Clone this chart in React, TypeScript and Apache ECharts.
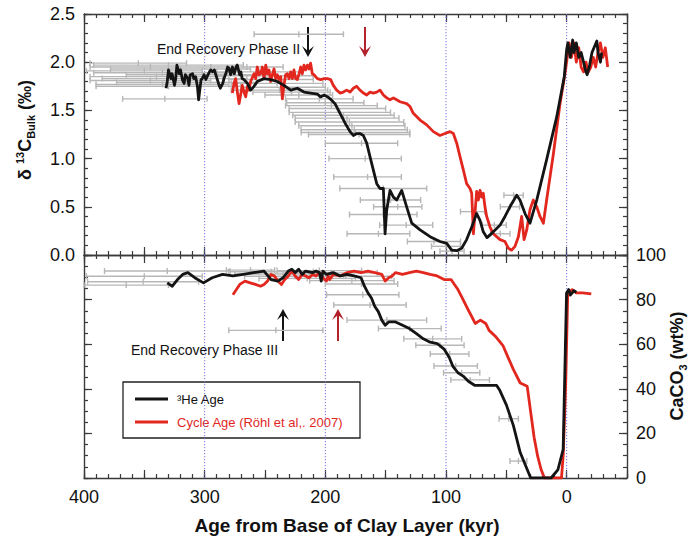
import React, { useEffect, useRef } from 'react';
import * as echarts from 'echarts';

const FONT = '"Liberation Sans", Arial, Helvetica, sans-serif';
const AX = '#3a3a3a';
const BLACK = '#141414';
const RED = '#e2271f';
const DARK_RED = '#b3222b';
const ERR_GRAY = '#b7b7b7';

// δ13C bulk (‰) against age (kyr before clay base), ³He age model
const d13cHe: number[][] = [
  [332, 1.73], [331, 1.8], [330, 1.92], [328, 1.83], [327, 1.88], [325, 1.76], [324, 1.83], [323, 1.97],
  [321, 1.88], [320, 1.92], [318.5, 1.82], [317, 1.78], [316, 1.87], [314, 1.83], [313, 1.76], [312, 1.87],
  [310, 1.88], [309, 1.83], [307.5, 1.85], [306, 1.75], [305, 1.61], [303, 1.82], [302, 1.83], [300.5, 1.87],
  [299, 1.82], [298, 1.85], [296, 1.9], [295, 1.92], [293.5, 1.9], [292, 1.92], [291, 1.88], [289.5, 1.82],
  [288, 1.76], [287, 1.73], [285, 1.78], [284, 1.83], [282.5, 1.88], [281, 1.95], [280, 1.94], [278.5, 1.87],
  [277, 1.95], [275.5, 1.88], [274, 1.95], [273, 1.97], [271, 1.87], [270, 1.9], [269, 1.83], [267.4, 1.82],
  [264.6, 1.78], [261.9, 1.71], [259.1, 1.75], [256.4, 1.8], [250.8, 1.83], [245.3, 1.82], [239.8, 1.8],
  [234.3, 1.76], [228.7, 1.71], [223.2, 1.73], [217.7, 1.69], [212.2, 1.68], [206.6, 1.67], [204, 1.64],
  [201, 1.66], [198, 1.64], [196, 1.62], [192, 1.57], [187.8, 1.47], [183.7, 1.37], [179.5, 1.28],
  [176.8, 1.24], [174, 1.26], [171.3, 1.26], [168.5, 1.24], [165.7, 1.16], [163, 1.02], [160.2, 0.88],
  [157.4, 0.74], [154.7, 0.69], [151.9, 0.69], [150.5, 0.22], [149.1, 0.47], [146.4, 0.67], [143.6, 0.6],
  [140.9, 0.57], [136.7, 0.67], [132.6, 0.5], [128.4, 0.33], [121.5, 0.26], [113.2, 0.19], [105, 0.14],
  [99.4, 0.12], [95.3, 0.05], [91.1, 0.045], [87, 0.07], [82.9, 0.16], [78.7, 0.29], [74.6, 0.43],
  [71.8, 0.36], [69.1, 0.24], [66, 0.18], [60.8, 0.24], [55.2, 0.31], [51.1, 0.4], [47, 0.5], [41.4, 0.62],
  [38.7, 0.57], [34.5, 0.43], [30.4, 0.33], [24.8, 0.57], [16.6, 0.99], [8.3, 1.43], [2, 1.85], [0, 2.13],
  [-1, 2.2], [-3, 2.05], [-5, 2.23], [-6, 2.1], [-8, 2.2], [-10, 2.05], [-12, 2.1], [-14, 2.0], [-16, 1.9],
  [-17, 1.87], [-19, 1.97], [-21, 2.1], [-23, 2.16], [-25, 2.22], [-26, 2.1], [-28, 2.0], [-29, 2.1],
];

// δ13C bulk (‰), cycle age model (Röhl et al., 2007)
const d13cCycle: number[][] = [
  [277, 1.68], [275.7, 1.78], [274.3, 1.83], [272.9, 1.69], [271.5, 1.57], [270.2, 1.66], [268.8, 1.76],
  [267.4, 1.69], [266, 1.64], [264.6, 1.75], [263.3, 1.71], [261.9, 1.8], [259.1, 1.88], [257.7, 1.83],
  [256.4, 1.95], [255, 1.87], [253.6, 1.88], [252.2, 1.95], [250.8, 1.83], [249.4, 1.97], [248.1, 1.88],
  [246.7, 1.92], [245.3, 1.8], [243.9, 1.87], [242.5, 1.93], [241.2, 1.83], [239.8, 1.87], [238.4, 1.82],
  [237, 1.85], [235.6, 1.62], [234.3, 1.76], [232.9, 1.87], [231.5, 1.88], [230.1, 1.83], [228.7, 1.9],
  [227.3, 1.83], [226, 1.92], [224.6, 1.83], [223.2, 1.82], [221.8, 1.88], [220.4, 1.95], [219.1, 1.88],
  [217.7, 1.97], [216.3, 1.92], [214.9, 1.97], [213.5, 1.93], [212.2, 1.99], [210.8, 1.88], [209.4, 1.87],
  [206.6, 1.83], [203.9, 1.82], [201.1, 1.83], [198.3, 1.83], [195.6, 1.82], [193.4, 1.76], [190.6, 1.71],
  [187.8, 1.68], [185.1, 1.69], [182.3, 1.71], [179.5, 1.69], [176.8, 1.73], [174, 1.75], [171.3, 1.71],
  [168.5, 1.68], [165.7, 1.66], [163, 1.69], [160.2, 1.68], [157.4, 1.69], [154.7, 1.71], [151.9, 1.66],
  [149.1, 1.63], [146.4, 1.61], [143.6, 1.63], [140.9, 1.61], [138.1, 1.59], [132.6, 1.57], [129.8, 1.54],
  [127.1, 1.47], [121.5, 1.4], [116, 1.35], [110.5, 1.28], [105, 1.24], [100.8, 1.26], [96.7, 1.28],
  [93.9, 1.26], [91.1, 1.16], [88.4, 1.02], [85.6, 0.88], [82.9, 0.74], [80.1, 0.69], [78.7, 0.64],
  [77.3, 0.22], [76, 0.43], [74.6, 0.66], [73.2, 0.57], [71.8, 0.67], [70.4, 0.6], [69.1, 0.64],
  [67.7, 0.5], [66.3, 0.4], [63.5, 0.29], [60.8, 0.22], [55.2, 0.16], [51.1, 0.14], [48.3, 0.07],
  [45.6, 0.05], [42.8, 0.09], [40, 0.19], [37.3, 0.4], [35.3, 0.16], [33.1, 0.26], [30.4, 0.47],
  [27.6, 0.57], [24.8, 0.5], [22.1, 0.4], [19.3, 0.33], [16.6, 0.57], [11, 1.05], [5.5, 1.57], [1.4, 1.88],
  [-1, 2.1], [-2, 2.2], [-4, 2.05], [-6, 2.2], [-8, 2.0], [-10, 2.15], [-12, 1.95], [-14, 1.9], [-16, 2.0],
  [-18, 1.9], [-20, 1.95], [-22, 2.05], [-24, 1.95], [-26, 2.1], [-28, 2.2], [-30, 2.05], [-32, 2.15],
  [-34, 1.95],
];

// CaCO3 (wt%), ³He age model
const caco3He: number[][] = [
  [331, 87.5], [326.8, 86], [322.5, 89], [318.2, 91.3], [313.9, 92.1], [308.2, 89.8], [301, 87.5],
  [293.8, 89.8], [285.2, 91.3], [276.6, 90.6], [268, 91.3], [259.4, 92.1], [250.8, 92.8], [245, 89],
  [239.3, 88.3], [235, 89.8], [230.7, 92.8], [227.8, 93.6], [225, 92.1], [222.1, 93.6], [219.2, 91.3],
  [216.4, 92.8], [210.6, 92.1], [207.7, 92.8], [204.9, 92.1], [203.4, 88.3], [202, 92.8], [199.1, 91.3],
  [193.4, 92.1], [187.7, 90.6], [181.9, 91.3], [176.2, 90.6], [170.4, 89.8], [167.6, 86], [164.7, 83],
  [161.8, 80.7], [159, 76.9], [156.1, 74.6], [153.2, 70.8], [150.4, 68.5], [147.5, 70], [141.8, 70],
  [136, 68.5], [130.3, 67], [124.5, 64.7], [118.8, 62.4], [113.1, 60.9], [107.3, 60.3], [101.6, 57.8],
  [97.3, 54], [94.4, 50.2], [90.1, 47.2], [85.8, 45.7], [81.5, 43.4], [76, 41.5], [58, 41.5], [55.7, 39.6],
  [49.9, 32.7], [44.2, 23.6], [38.5, 11.4], [32.7, 3.8], [29.8, 0], [12.9, 0], [7.2, 3.8], [2.9, 12.9],
  [0.1, 83], [-1.7, 84.5], [-3, 82], [-4.6, 83], [-6, 84], [-8, 83.3],
];

// CaCO3 (wt%), cycle age model (Röhl et al., 2007)
const caco3Cycle: number[][] = [
  [276.6, 82.2], [273.7, 84.5], [270.9, 86.8], [266.6, 88.3], [262.3, 87.5], [258, 86.8], [253.7, 86],
  [250.8, 86.8], [247.9, 88.3], [245, 91.3], [242.2, 90.6], [239.3, 88.3], [236.4, 86.8], [233.6, 89],
  [230.7, 90.6], [227.8, 92.8], [225, 90.6], [222.1, 89], [219.2, 91.3], [216.4, 90.6], [213.5, 89.8],
  [210.6, 91.3], [207.7, 90.6], [204.9, 92.1], [202, 89.8], [199.1, 88.3], [197.7, 90.6], [196.3, 89],
  [193.4, 91.3], [187.7, 90.6], [181.9, 92.1], [176.2, 92.8], [170.4, 92.1], [164.7, 92.8], [159, 92.1],
  [153.2, 91.3], [150.4, 88.3], [147.5, 89.8], [144.6, 90.6], [141.8, 92.1], [136, 91.3], [130.3, 92.1],
  [124.5, 92.8], [118.8, 92.1], [113.1, 91.3], [107.3, 90.6], [101.6, 89], [95.8, 89], [93, 86.8],
  [90.1, 84.5], [87.2, 81.4], [84.4, 78.4], [81.5, 75.3], [78.6, 72.3], [75.8, 69.3], [71.5, 70.8],
  [67.1, 69.3], [64.3, 66.2], [58.5, 63.2], [52.8, 59.4], [48.5, 54], [44.2, 48.7], [38.5, 42.6],
  [32.7, 41.1], [27, 18.3], [24.1, 9.9], [21.2, 3.8], [18.4, 0], [4.3, 0], [2.9, 9.9], [0.9, 40.3],
  [-0.9, 83], [-4.6, 84.5], [-8, 83], [-13.2, 83], [-20.4, 82.6],
];

// Horizontal age uncertainty of the δ13C samples: [age, δ13C, half-width]
const d13cAgeErr: number[][] = [
  [222, 2.29, 37],
  [355, 1.99, 40], [330, 1.97, 62], [345, 1.95, 50], [320, 1.93, 58], [350, 1.91, 48], [335, 1.89, 57],
  [310, 1.87, 55], [340, 1.85, 55], [325, 1.83, 60], [345, 1.81, 50], [315, 1.79, 58], [335, 1.77, 55],
  [330, 1.75, 60], [333, 1.62, 35],
  [265, 1.95, 30], [255, 1.9, 35], [250, 1.86, 40], [245, 1.82, 35], [240, 1.78, 38], [235, 1.74, 35],
  [238, 1.71, 40], [228, 1.69, 32], [222, 1.66, 28],
  [205, 1.62, 28], [200, 1.58, 32], [195, 1.55, 38], [190, 1.52, 40], [188, 1.48, 42], [185, 1.45, 42],
  [182, 1.42, 43], [180, 1.38, 45], [178, 1.34, 44], [176, 1.3, 44], [175, 1.27, 45], [172, 1.25, 42],
  [170, 1.16, 30], [167, 1.0, 30], [165, 0.81, 28], [152, 0.69, 36], [146, 0.57, 25], [140, 0.5, 20],
  [152, 0.42, 28], [133, 0.31, 22], [156, 0.22, 26], [110, 0.14, 22], [100, 0.09, 12], [95, 0.04, 10],
  [78, 0.45, 10], [47, 0.5, 8], [44, 0.62, 8], [60, 0.31, 10], [55, 0.22, 8],
];

// Horizontal age uncertainty of the CaCO3 samples: [age, CaCO3, half-width]
const caco3AgeErr: number[][] = [
  [331, 92.8, 52], [350, 90.5, 48], [351, 88, 46], [365, 86.5, 35],
  [262, 93.2, 20], [245, 92.5, 35], [235, 91.5, 40], [225, 90.5, 42], [215, 89.5, 40], [205, 93, 35],
  [195, 92, 38], [185, 90.5, 40], [178, 88.5, 35], [170, 87, 30],
  [169, 82.2, 30], [163, 77.6, 30], [149, 70.8, 33], [130, 67, 26], [111, 62.4, 24], [105, 59.5, 20],
  [97, 55.6, 16], [92, 50.2, 18], [87, 47.2, 15], [80, 44, 16], [48, 26.6, 8], [40, 7.6, 7], [241, 66.2, 39],
];

const ageGridLines = [0, 100, 200, 300];
const ageTickLabels = [0, 100, 200, 300, 400];

const legendNames = ['³He Age', 'Cycle Age (Röhl et al,. 2007)'];

function xAxisDef(grid: number, position: string, interval: number, tickLen: number, frame: boolean, labels: boolean) {
  return {
    type: 'value', gridIndex: grid, position, min: -50, max: 400, inverse: true, interval,
    axisLine: { show: frame, onZero: false, lineStyle: { color: AX, width: 1.4 } },
    axisTick: { show: true, inside: true, length: tickLen, lineStyle: { color: AX, width: 1.2 } },
    axisLabel: labels
      ? {
          show: true, margin: 10, color: '#111', fontSize: 18, fontFamily: FONT,
          formatter: (v: number) => (ageTickLabels.includes(Math.round(v)) ? String(Math.round(v)) : ''),
        }
      : { show: false },
    splitLine: { show: false },
  };
}

function yAxisDef(
  grid: number, position: string, max: number, interval: number, tickLen: number, frame: boolean,
  fmt: ((v: number) => string) | null,
) {
  return {
    type: 'value', gridIndex: grid, position, min: 0, max, interval,
    axisLine: { show: frame, onZero: false, lineStyle: { color: AX, width: 1.4 } },
    axisTick: { show: true, inside: true, length: tickLen, lineStyle: { color: AX, width: 1.2 } },
    axisLabel: fmt
      ? { show: true, margin: 9, color: '#111', fontSize: 18, fontFamily: FONT, formatter: fmt }
      : { show: false },
    splitLine: { show: false },
  };
}

function gridLineSeries(axisIndex: number) {
  return {
    type: 'custom', xAxisIndex: axisIndex, yAxisIndex: axisIndex, silent: true, z: 1,
    data: ageGridLines.map((v) => [v, 0]),
    encode: { x: 0, y: 1 },
    renderItem: (params: any, api: any) => {
      const cs = params.coordSys;
      const x = api.coord([api.value(0), 0])[0];
      return {
        type: 'line',
        shape: { x1: x, y1: cs.y, x2: x, y2: cs.y + cs.height },
        style: { stroke: '#7272dc', lineWidth: 1, lineDash: [1.2, 1.8] },
      };
    },
  };
}

function errorBarSeries(axisIndex: number, data: number[][]) {
  return {
    type: 'custom', xAxisIndex: axisIndex, yAxisIndex: axisIndex, silent: true, z: 2,
    data,
    encode: { x: 0, y: 1 },
    renderItem: (_params: any, api: any) => {
      const c = api.value(0);
      const v = api.value(1);
      const h = api.value(2);
      const a = api.coord([c + h, v]);
      const b = api.coord([c - h, v]);
      const m = api.coord([c, v]);
      const st = { stroke: ERR_GRAY, lineWidth: 1.4 };
      const cap = (x: number, y: number) => ({ type: 'line', shape: { x1: x, y1: y - 3, x2: x, y2: y + 3 }, style: st });
      return {
        type: 'group',
        children: [
          { type: 'line', shape: { x1: a[0], y1: a[1], x2: b[0], y2: b[1] }, style: st },
          cap(a[0], a[1]), cap(b[0], b[1]), cap(m[0], m[1]),
        ],
      };
    },
  };
}

function lineSeries(name: string, axisIndex: number, data: number[][], color: string, z: number) {
  return {
    name, type: 'line', xAxisIndex: axisIndex, yAxisIndex: axisIndex, data, z,
    symbol: 'none', showSymbol: false, silent: true,
    lineStyle: { color, width: 2.8, join: 'round' },
  };
}

function arrow(x: number, yTail: number, yTip: number, color: string) {
  const dir = yTip > yTail ? 1 : -1;
  const L = 11;
  const hw = 6;
  return {
    type: 'group',
    children: [
      { type: 'line', shape: { x1: x, y1: yTail, x2: x, y2: yTip - dir * 5 }, style: { stroke: color, lineWidth: 2 } },
      {
        type: 'polygon',
        shape: { points: [[x - hw, yTip - dir * L], [x, yTip], [x + hw, yTip - dir * L], [x, yTip - dir * L * 0.55]] },
        style: { fill: color },
      },
    ],
  };
}

export default function App() {
  const ref = useRef<HTMLDivElement>(null);

  useEffect(() => {
    if (!ref.current) return;
    const chart = echarts.init(ref.current, undefined, { renderer: 'svg' });
    const titleRich = {
      m: { fontSize: 18, fontWeight: 'bold', fontFamily: FONT, fill: '#111', lineHeight: 22 },
      s: { fontSize: 11, fontWeight: 'bold', fontFamily: FONT, fill: '#111', verticalAlign: 'top' },
      b: { fontSize: 11, fontWeight: 'bold', fontFamily: FONT, fill: '#111', verticalAlign: 'bottom' },
    };
    chart.setOption({
      animation: false,
      backgroundColor: '#fff',
      grid: [
        { left: 84, top: 14, width: 543, height: 241, outerBoundsMode: 'none' },
        { left: 84, top: 255, width: 543, height: 223, outerBoundsMode: 'none' },
      ],
      xAxis: [
        xAxisDef(0, 'bottom', 10, 4, true, false),
        xAxisDef(0, 'bottom', 50, 8, false, false),
        xAxisDef(0, 'top', 10, 4, true, false),
        xAxisDef(0, 'top', 50, 8, false, false),
        xAxisDef(1, 'bottom', 10, 4, true, false),
        xAxisDef(1, 'bottom', 50, 8, false, true),
        xAxisDef(1, 'top', 10, 4, true, false),
        xAxisDef(1, 'top', 50, 8, false, false),
      ],
      yAxis: [
        yAxisDef(0, 'left', 2.5, 0.1, 4, true, null),
        yAxisDef(0, 'left', 2.5, 0.5, 8, false, (v: number) => v.toFixed(1)),
        yAxisDef(0, 'right', 2.5, 0.1, 4, true, null),
        yAxisDef(0, 'right', 2.5, 0.5, 8, false, null),
        yAxisDef(1, 'left', 100, 5, 4, true, null),
        yAxisDef(1, 'left', 100, 20, 8, false, null),
        yAxisDef(1, 'right', 100, 5, 4, true, null),
        yAxisDef(1, 'right', 100, 20, 8, false, (v: number) => String(Math.round(v))),
      ],
      series: [
        gridLineSeries(0),
        errorBarSeries(0, d13cAgeErr),
        lineSeries(legendNames[1], 0, d13cCycle, RED, 3),
        lineSeries(legendNames[0], 0, d13cHe, BLACK, 4),
        gridLineSeries(4),
        errorBarSeries(4, caco3AgeErr),
        lineSeries(legendNames[1], 4, caco3Cycle, RED, 3),
        lineSeries(legendNames[0], 4, caco3He, BLACK, 4),
      ],
      graphic: [
        {
          type: 'text', x: 25, y: 130, rotation: Math.PI / 2,
          style: { text: '{m|δ }{s|13}{m|C}{b|Bulk}{m| (‰)}', rich: titleRich, align: 'center', verticalAlign: 'middle' },
        },
        {
          type: 'text', x: 677, y: 366, rotation: Math.PI / 2,
          style: { text: '{m|CaCO}{b|3}{m| (wt%)}', rich: titleRich, align: 'center', verticalAlign: 'middle' },
        },
        {
          type: 'text', x: 347, y: 525,
          style: {
            text: 'Age from Base of Clay Layer (kyr)', fontSize: 19, fontWeight: 'bold', fontFamily: FONT,
            fill: '#111', align: 'center', verticalAlign: 'middle',
          },
        },
        {
          type: 'text', x: 157, y: 49,
          style: { text: 'End Recovery Phase II', fontSize: 14, fontFamily: FONT, fill: '#111', verticalAlign: 'middle' },
        },
        {
          type: 'text', x: 131, y: 350,
          style: { text: 'End Recovery Phase III', fontSize: 14, fontFamily: FONT, fill: '#111', verticalAlign: 'middle' },
        },
        arrow(308, 27, 57, BLACK),
        arrow(365, 27, 57, DARK_RED),
        arrow(283, 341, 309, BLACK),
        arrow(338, 341, 309, DARK_RED),
        {
          type: 'group',
          children: [
            { type: 'rect', shape: { x: 123, y: 382, width: 237, height: 56 }, style: { fill: '#fff', stroke: '#222', lineWidth: 1.3 } },
            { type: 'line', shape: { x1: 135, y1: 399, x2: 168, y2: 399 }, style: { stroke: BLACK, lineWidth: 3 } },
            { type: 'line', shape: { x1: 135, y1: 422, x2: 168, y2: 422 }, style: { stroke: RED, lineWidth: 3 } },
            {
              type: 'text', x: 177, y: 399,
              style: { text: legendNames[0], fontSize: 13, fontFamily: FONT, fill: '#111', verticalAlign: 'middle' },
            },
            {
              type: 'text', x: 177, y: 422,
              style: { text: legendNames[1], fontSize: 13, fontFamily: FONT, fill: RED, verticalAlign: 'middle' },
            },
          ],
        },
      ],
    });
    return () => chart.dispose();
  }, []);

  return (
    <div
      ref={ref}
      style={{ position: 'fixed', left: 0, top: 0, width: 691, height: 538, background: '#fff' }}
    />
  );
}
